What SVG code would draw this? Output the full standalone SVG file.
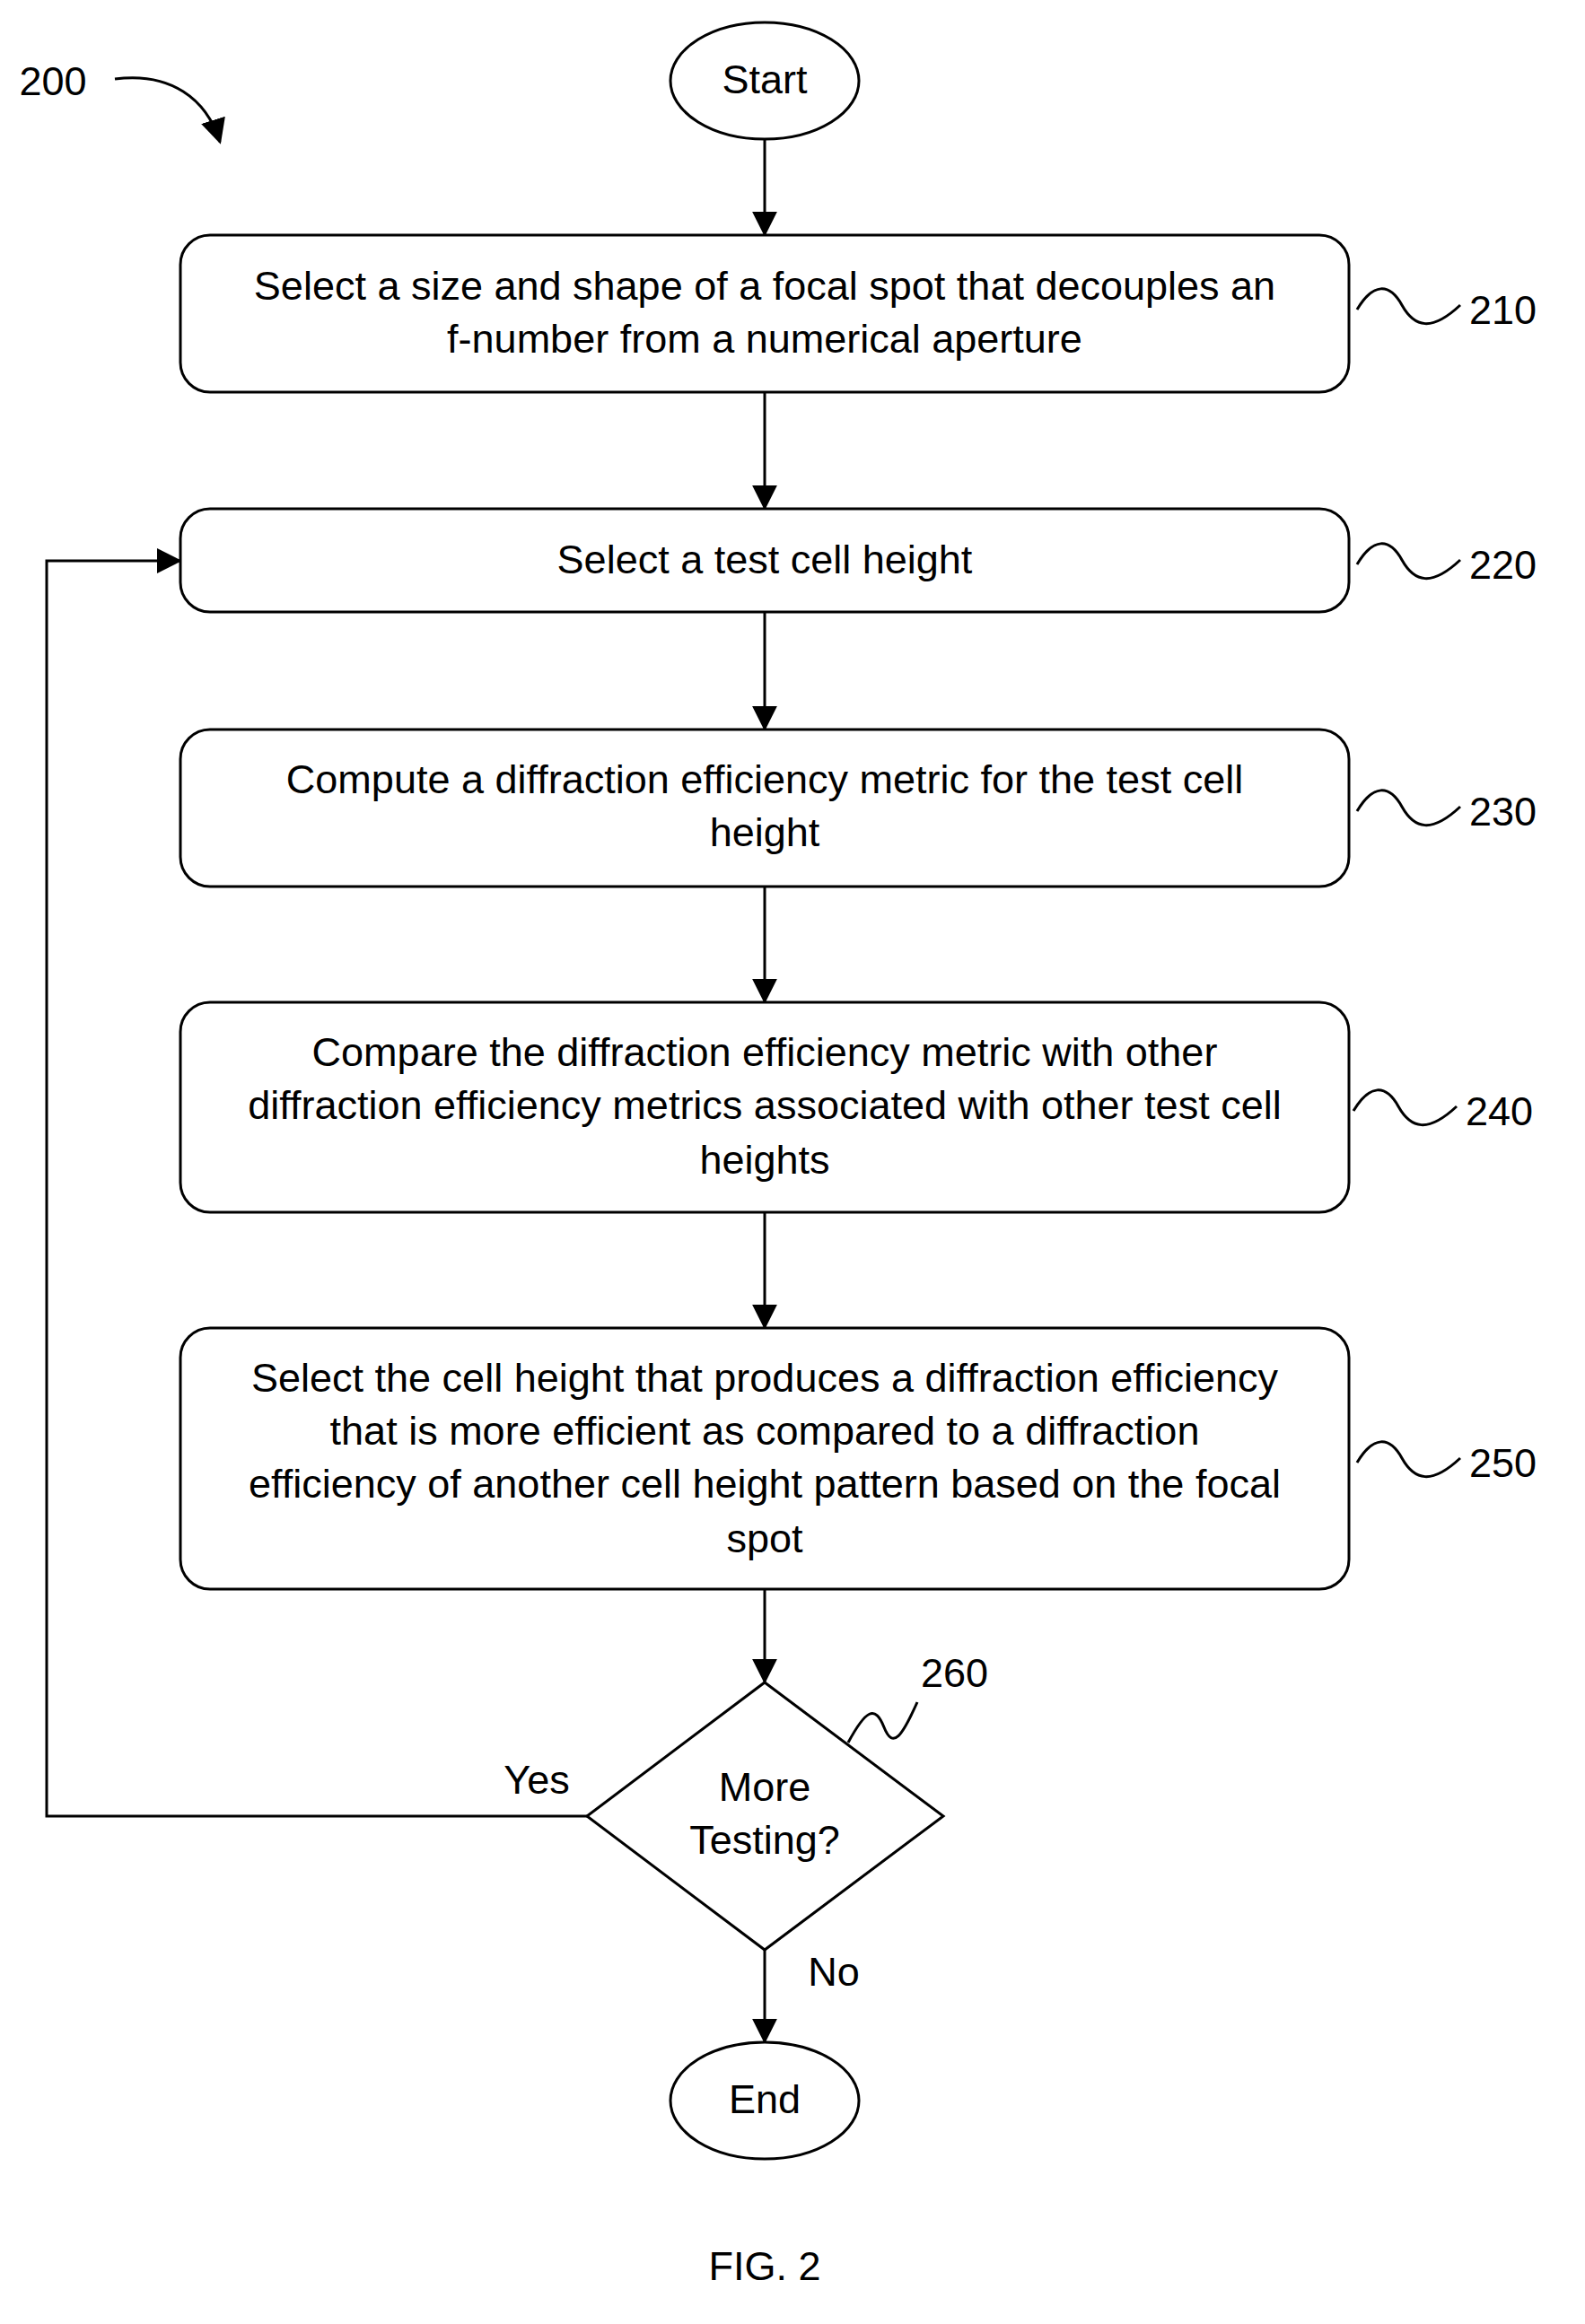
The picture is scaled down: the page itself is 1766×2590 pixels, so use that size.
<svg xmlns="http://www.w3.org/2000/svg" width="1766" height="2590" viewBox="0 0 1766 2590">
<defs>
<marker id="ah" markerWidth="10" markerHeight="10" refX="9" refY="5" orient="auto" markerUnits="userSpaceOnUse" viewBox="0 0 10 10"><path d="M0,0 L10,5 L0,10 z" fill="#000"/></marker>
<marker id="a2" viewBox="0 0 10 10" refX="9" refY="5" markerWidth="28" markerHeight="28" orient="auto" markerUnits="userSpaceOnUse"><path d="M0,0 L10,5 L0,10 z" fill="#000"/></marker>
<style>
.s{fill:#fff;stroke:#000;stroke-width:3}
.t{font-family:"Liberation Sans",Arial,sans-serif;font-size:45px;text-anchor:middle;fill:#000}
.l{font-family:"Liberation Sans",Arial,sans-serif;font-size:45px;fill:#000}
.w{fill:none;stroke:#000;stroke-width:3}
.c{fill:none;stroke:#000;stroke-width:3;marker-end:url(#a2)}
</style>
</defs>
<g id="connectors">
<line class="c" x1="852" y1="155" x2="852" y2="261"/>
<line class="c" x1="852" y1="437" x2="852" y2="566"/>
<line class="c" x1="852" y1="682" x2="852" y2="812"/>
<line class="c" x1="852" y1="988" x2="852" y2="1116"/>
<line class="c" x1="852" y1="1351" x2="852" y2="1479"/>
<line class="c" x1="852" y1="1771" x2="852" y2="1874"/>
<line class="c" x1="852" y1="2173" x2="852" y2="2275"/>
<polyline class="c" points="654,2024 52,2024 52,625 200,625"/>
<text class="l" x="598" y="1999" text-anchor="middle">Yes</text>
<text class="l" x="929" y="2213" text-anchor="middle">No</text>
</g>
<g id="label200">
<text class="l" x="59" y="106" text-anchor="middle">200</text>
<path class="c" d="M128,88 C190,80 230,110 245,158"/>
</g>
<g id="start"><ellipse class="s" cx="852" cy="90" rx="105" ry="65"/><text class="t" x="852" y="104" font-size="38">Start</text></g>
<g id="n210"><rect class="s" x="201" y="262" width="1302" height="175" rx="33"/>
<text class="t" x="852" y="334">Select a size and shape of a focal spot that decouples an</text>
<text class="t" x="852" y="393">f-number from a numerical aperture</text>
<path class="w" d="M1512,345 C1530,315 1548,315 1562,340 S1595,370 1627,340"/><text class="l" x="1637" y="361">210</text></g>
<g id="n220"><rect class="s" x="201" y="567" width="1302" height="115" rx="33"/>
<text class="t" x="852" y="639">Select a test cell height</text>
<path class="w" d="M1512,629 C1530,599 1548,599 1562,624 S1595,654 1627,624"/><text class="l" x="1637" y="645">220</text></g>
<g id="n230"><rect class="s" x="201" y="813" width="1302" height="175" rx="33"/>
<text class="t" x="852" y="884">Compute a diffraction efficiency metric for the test cell</text>
<text class="t" x="852" y="943">height</text>
<path class="w" d="M1512,904 C1530,874 1548,874 1562,899 S1595,929 1627,899"/><text class="l" x="1637" y="920">230</text></g>
<g id="n240"><rect class="s" x="201" y="1117" width="1302" height="234" rx="33"/>
<text class="t" x="852" y="1188">Compare the diffraction efficiency metric with other</text>
<text class="t" x="852" y="1247">diffraction efficiency metrics associated with other test cell</text>
<text class="t" x="852" y="1308">heights</text>
<path class="w" d="M1508,1238 C1526,1208 1544,1208 1558,1233 S1591,1263 1623,1233"/><text class="l" x="1633" y="1254">240</text></g>
<g id="n250"><rect class="s" x="201" y="1480" width="1302" height="291" rx="33"/>
<text class="t" x="852" y="1551">Select the cell height that produces a diffraction efficiency</text>
<text class="t" x="852" y="1610">that is more efficient as compared to a diffraction</text>
<text class="t" x="852" y="1669">efficiency of another cell height pattern based on the focal</text>
<text class="t" x="852" y="1730">spot</text>
<path class="w" d="M1512,1630 C1530,1600 1548,1600 1562,1625 S1595,1655 1627,1625"/><text class="l" x="1637" y="1646">250</text></g>
<g id="n260"><polygon class="s" points="852,1875 1051,2024 852,2173 654,2024"/>
<text class="t" x="852" y="2007">More</text><text class="t" x="852" y="2066">Testing?</text>
<path class="w" d="M945,1942 C965,1905 975,1900 985,1925 S1005,1935 1022,1897"/><text class="l" x="1026" y="1880">260</text></g>
<g id="end"><ellipse class="s" cx="852" cy="2341" rx="105" ry="65"/><text class="t" x="852" y="2355" font-size="38">End</text></g>
<text class="t" x="852" y="2541" font-size="66">FIG. 2</text>
</svg>
